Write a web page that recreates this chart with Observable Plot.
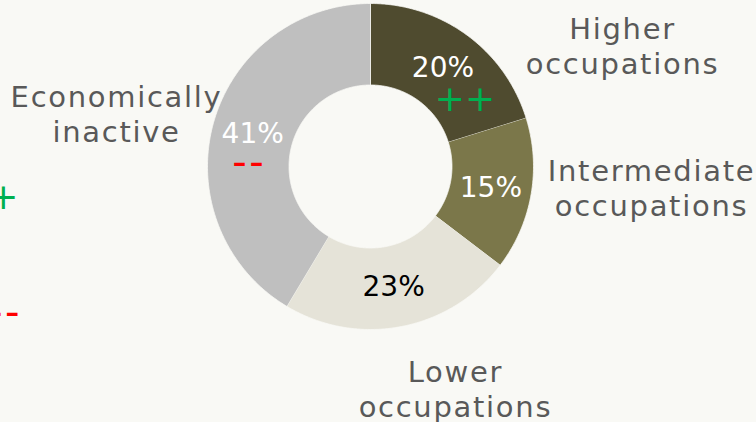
<!DOCTYPE html>
<html><head><meta charset="utf-8">
<script src="https://cdn.jsdelivr.net/npm/d3@7"></script>
<script src="https://cdn.jsdelivr.net/npm/@observablehq/plot@0.6"></script>
<style>
html,body{margin:0;padding:0;background:#f9f9f5;overflow:hidden}
svg g[font-size="29"] { letter-spacing: 1.7px; }
svg g[font-size="27"] { letter-spacing: 3.5px; }
</style></head><body><div id="chart"></div>
<script>
// ---- data ----
const categories = ["Higher occupations","Intermediate occupations","Lower occupations","Economically inactive"];
const labelLines = ["Higher\noccupations","Intermediate\noccupations","Lower\noccupations","Economically\ninactive"];
const values = [20, 15, 23, 41];
const sliceColors = ["#4f4b2f","#7b774a","#e5e3d8","#bfbfbf"];
const valueColors = ["#ffffff","#ffffff","#000000","#ffffff"];
const upMarker = {category: "Higher occupations", text: "++"};
const downMarker = {category: "Economically inactive", text: "––"};

// ---- layout ----
const innerR = 0.5, outerR = 1;
const labelAnchors = [[1.546, 0.742],[1.724, -0.128],[0.521, -1.36],[-1.558, 0.325]];
const edgePlus = [{text: "+", x: -2.252, y: -0.19}];
const edgeMinus = [{text: "––", x: -2.24, y: -0.902}];

const arcs = d3.pie().sort(null).value(d => d)(values);
const slicePts = [];
arcs.forEach((a, i) => {
  const n = Math.max(2, Math.ceil((a.endAngle - a.startAngle) / (Math.PI / 360)));
  for (let k = 0; k <= n; k++) {
    const t = a.startAngle + (a.endAngle - a.startAngle) * k / n;
    slicePts.push({category: categories[i], x: outerR * Math.sin(t), y: outerR * Math.cos(t)});
  }
  for (let k = n; k >= 0; k--) {
    const t = a.startAngle + (a.endAngle - a.startAngle) * k / n;
    slicePts.push({category: categories[i], x: innerR * Math.sin(t), y: innerR * Math.cos(t)});
  }
});
const mid = arcs.map((a, i) => {
  const t = (a.startAngle + a.endAngle) / 2, r = (innerR + outerR) / 2;
  return {category: categories[i], label: values[i] + "%", color: valueColors[i], x: r * Math.sin(t), y: r * Math.cos(t)};
});
const catLabels = categories.map((c, i) => ({text: labelLines[i], x: labelAnchors[i][0], y: labelAnchors[i][1]}));

const cx = 370, cy = 166, R = 163;
const font = "'DejaVu Sans', sans-serif";
const chart = Plot.plot({
  width: 756, height: 422,
  margin: 0,
  style: {background: "#f9f9f5", fontFamily: font, overflow: "visible"},
  x: {domain: [-1, 1], range: [cx - R, cx + R], axis: null},
  y: {domain: [-1, 1], range: [cy + R, cy - R], axis: null},
  color: {domain: categories, range: sliceColors},
  marks: [
    Plot.line(slicePts, {x: "x", y: "y", z: "category", fill: "category", stroke: "#f9f9f5", strokeWidth: 0.8, curve: "linear"}),
    Plot.text(mid, {x: "x", y: "y", text: "label", fill: d => d.color, fontSize: 28}),
    Plot.text(mid.filter(d => d.category === upMarker.category), {x: "x", y: "y", text: () => upMarker.text, fill: "#00b050", fontSize: 36, dx: 22, dy: 31}),
    Plot.text(mid.filter(d => d.category === downMarker.category), {x: "x", y: "y", text: () => downMarker.text, fill: "#ff0000", fontSize: 27, fontWeight: "bold", dx: -3, dy: 29}),
    Plot.text(catLabels, {x: "x", y: "y", text: "text", fill: "#595959", fontSize: 29, lineHeight: 1.2}),
    Plot.text(edgePlus, {x: "x", y: "y", text: "text", fill: "#00b050", fontSize: 36}),
    Plot.text(edgeMinus, {x: "x", y: "y", text: "text", fill: "#ff0000", fontSize: 27, fontWeight: "bold"})
  ]
});
document.getElementById("chart").appendChild(chart);
</script></body></html>
